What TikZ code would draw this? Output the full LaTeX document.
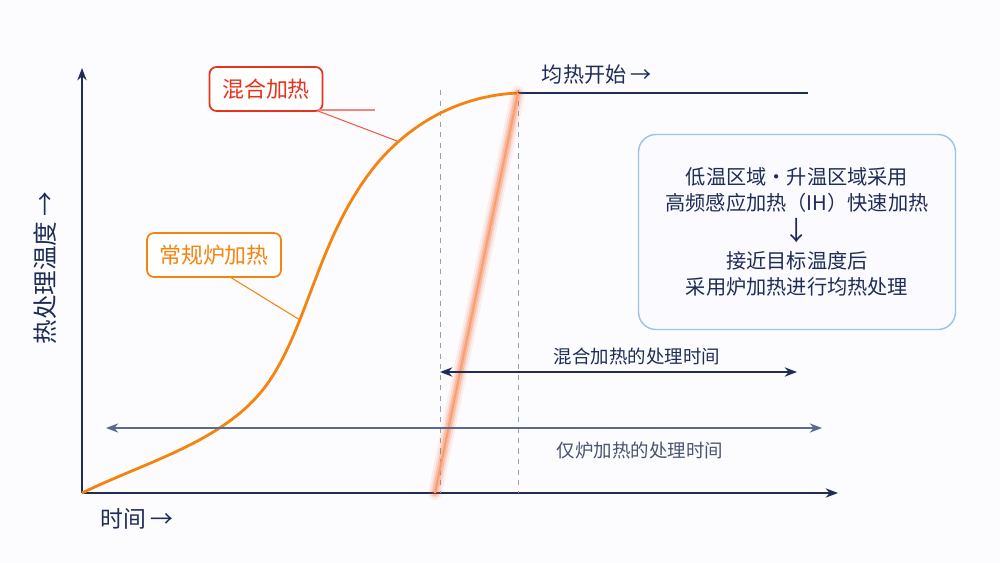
\documentclass[tikz,border=0pt]{standalone}
\usepackage{fontspec}
\setmainfont{Noto Sans CJK SC}
\usetikzlibrary{arrows.meta}
\definecolor{navy}{HTML}{1F2D56}
\definecolor{gridgray}{HTML}{9AA0AA}
\definecolor{heatorange}{HTML}{F5840F}
\definecolor{hybridred}{HTML}{E8331C}
\definecolor{infoblue}{HTML}{9CC3E4}
\definecolor{spanblue}{HTML}{5A6A8C}
\newlength{\unitpx}\setlength{\unitpx}{0.02cm}
\tikzset{
	axis/.style={navy, line width=1.1pt, -{Stealth[length=7pt]}},
	tag/.style={draw, rounded corners=4pt, fill=white, line width=1pt, minimum height=44\unitpx, font=\fontsize{12.5}{14}\selectfont},
	span/.style={line width=1pt, {Stealth[length=7pt]}-{Stealth[length=7pt]}},
	guide/.style={gridgray, dashed, line width=.5pt},
}
\begin{document}
\begin{tikzpicture}[x=0.02cm, y=-0.02cm]
	\fill[white!96!blue!30!white] (0,0) rectangle (1000,563);
	\useasboundingbox (0,0) rectangle (1000,563);

	% axes
	\coordinate (o) at (82,493);
	\coordinate (ytop) at (82,68);
	\coordinate (xend) at (838,493);
	\draw[axis] (o) -- (ytop);
	\draw[axis] (o) -- (xend);
	\node[navy, rotate=90, font=\fontsize{14}{16}\selectfont] (ylab) at (45,268) {热处理温度 →};
	\node[navy, font=\fontsize{13}{15}\selectfont] (xlab) at (137,519) {时间 →};

	% markers
	\coordinate (ihstart) at (440,90);
	\coordinate (ihend) at (518,90);
	\draw[guide] (ihstart) -- (440,493);
	\draw[guide] (ihend) -- (518,493);

	% furnace curve
	\coordinate (soak) at (518,93);
	\draw[heatorange, line width=1.6pt] (o) .. controls (150,460) and (230,440) .. (270,380)
		.. controls (310,320) and (320,230) .. (380,160)
		.. controls (420,115) and (470,95) .. (soak);
	\coordinate (soakend) at (808,93);
	\draw[navy, line width=.8pt] (soak) -- (soakend);
	\node[navy, font=\fontsize{12}{14}\selectfont] (soaklab) at (597,75) {均热开始 →};

	% hybrid line with glow
	\coordinate (ih0) at (435,493);
	\foreach \w/\o in {8/.08, 5.5/.12, 3.5/.2}
		\draw[hybridred!70!orange, line width=\w pt, opacity=\o, line cap=round] (ih0) -- (soak);
	\draw[hybridred!40!orange!60!white, line width=1.2pt] (ih0) -- (soak);

	% tags
	\node[tag, draw=hybridred, text=hybridred, minimum width=113\unitpx] (hybrid) at (266,89) {混合加热};
	\coordinate (hybridpin) at (397,141);
	\draw[hybridred!80, line width=.6pt] (318,111) -- (hybridpin);
	\draw[hybridred!60, line width=.6pt] (318,110) -- (375,110);
	\node[tag, draw=heatorange, text=heatorange, minimum width=134\unitpx] (furnace) at (214,255) {常规炉加热};
	\coordinate (furnacepin) at (300,320);
	\draw[heatorange, line width=.6pt] (230,277) -- (furnacepin);

	% info box
	\node[draw=infoblue, rounded corners=10pt, fill=white!60!blue!5!white, line width=.8pt,
		minimum width=317\unitpx, minimum height=195\unitpx, align=center, text=navy,
		font=\fontsize{11.5}{15}\selectfont] (info) at (797,232)
		{低温区域・升温区域采用\\高频感应加热（IH）快速加热\\[2pt]{\fontsize{15}{17}\selectfont ↓}\\[1pt]接近目标温度后\\采用炉加热进行均热处理};

	% spans
	\coordinate (hs0) at (440,372);
	\coordinate (hs1) at (797,372);
	\draw[span, navy] (hs0) -- (hs1);
	\node[navy, font=\fontsize{10.5}{12}\selectfont] (hslab) at (637,356) {混合加热的处理时间};
	\coordinate (fs0) at (106,428);
	\coordinate (fs1) at (822,428);
	\draw[span, spanblue, line width=.8pt] (fs0) -- (fs1);
	\node[spanblue!80!black, font=\fontsize{10.5}{12}\selectfont] (fslab) at (640,450) {仅炉加热的处理时间};
\end{tikzpicture}
\end{document}
